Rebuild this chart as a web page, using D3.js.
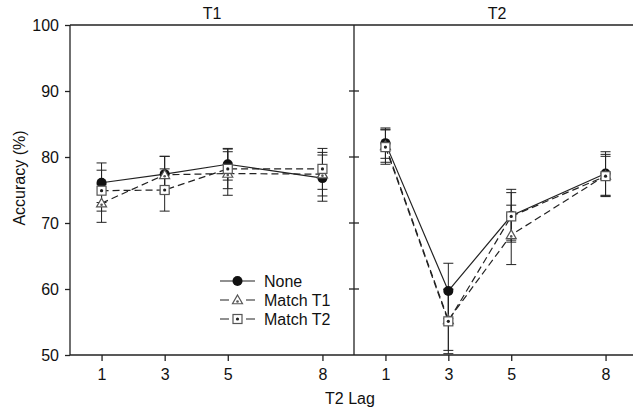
<!DOCTYPE html>
<html>
<head>
<meta charset="utf-8">
<script src="https://cdn.jsdelivr.net/npm/d3@7"></script>
<style>
  body { margin: 0; background: #fff; }
  text { font-family: Arial, "Liberation Sans", sans-serif; fill: #111; }
</style>
</head>
<body>
<div id="wrapper"></div>
<script>
// data
const lags = [1, 3, 5, 8]
const panelNames = ["T1", "T2"]
const seriesNames = ["None", "Match T1", "Match T2"]
const yTicks = [50, 60, 70, 80, 90, 100]

const t1None = [76.1, 77.4, 78.9, 76.8]
const t1MatchT1 = [73.0, 77.3, 77.5, 77.4]
const t1MatchT2 = [74.9, 75.0, 78.2, 78.2]
const t1NoneErr = [3.0, 2.7, 2.4, 3.5]
const t1MatchT1Err = [2.9, 2.8, 3.3, 3.3]
const t1MatchT2Err = [3.1, 3.2, 3.0, 3.1]

const t2None = [82.1, 59.7, 71.1, 77.5]
const t2MatchT1 = [81.7, 55.3, 68.2, 77.2]
const t2MatchT2 = [81.5, 55.1, 71.0, 77.1]
const t2NoneErr = [2.3, 4.2, 4.0, 3.3]
const t2MatchT1Err = [2.5, 4.6, 4.5, 3.2]
const t2MatchT2Err = [2.6, 4.9, 3.6, 3.0]

const panelData = [
  [t1None, t1MatchT1, t1MatchT2],
  [t2None, t2MatchT1, t2MatchT2]
]
const panelErr = [
  [t1NoneErr, t1MatchT1Err, t1MatchT2Err],
  [t2NoneErr, t2MatchT1Err, t2MatchT2Err]
]

// sizes
const width = 633, height = 408
const plotTop = 25, plotBottom = 355
const panelRanges = [[70, 354], [354, 637]]
const fontSize = 16

const svg = d3.select("#wrapper").append("svg")
  .attr("width", width)
  .attr("height", height)

const yScale = d3.scaleLinear().domain([50, 100]).range([plotBottom, plotTop])
const xScales = panelRanges.map(r => d3.scaleLinear().domain([0, 9]).range(r))

const dashes = [null, "7 4", "7 4"]
const axisColor = "#222"

function drawMarker(g, i, x, y) {
  if (i === 0) {
    g.append("circle").attr("cx", x).attr("cy", y).attr("r", 5).attr("fill", "#111")
  } else if (i === 1) {
    const s = 5
    g.append("path")
      .attr("d", `M${x},${y - s} L${x + s},${y + s * 0.75} L${x - s},${y + s * 0.75} Z`)
      .attr("fill", "#fff").attr("stroke", "#555").attr("stroke-width", 1.2)
    g.append("circle").attr("cx", x).attr("cy", y + 1.5).attr("r", 1.3).attr("fill", "#555")
  } else {
    g.append("rect").attr("x", x - 4.5).attr("y", y - 4.5).attr("width", 9).attr("height", 9)
      .attr("fill", "#fff").attr("stroke", "#555").attr("stroke-width", 1.2)
    g.append("circle").attr("cx", x).attr("cy", y).attr("r", 1.6).attr("fill", "#222")
  }
}

panelNames.forEach((name, p) => {
  const xScale = xScales[p]
  const g = svg.append("g")

  // frame
  g.append("line").attr("x1", xScale.range()[0]).attr("x2", xScale.range()[1])
    .attr("y1", plotTop).attr("y2", plotTop).attr("stroke", axisColor).attr("stroke-width", 1.3)
  g.append("line").attr("x1", xScale.range()[0]).attr("x2", xScale.range()[1])
    .attr("y1", plotBottom).attr("y2", plotBottom).attr("stroke", axisColor).attr("stroke-width", 1.3)
  g.append("line").attr("x1", xScale.range()[0]).attr("x2", xScale.range()[0])
    .attr("y1", plotTop).attr("y2", plotBottom).attr("stroke", axisColor).attr("stroke-width", 1.3)

  // x ticks
  const xAxis = g.append("g")
    .attr("transform", `translate(0,${plotBottom})`)
    .call(d3.axisBottom(xScale).tickValues(lags).tickSize(6).tickPadding(8).tickFormat(d3.format("d")))
  xAxis.select(".domain").remove()
  xAxis.selectAll("line").attr("stroke", axisColor).attr("stroke-width", 1.3)
  xAxis.selectAll("text").attr("font-size", fontSize).attr("fill", "#111")
    .style("font-family", "Arial, 'Liberation Sans', sans-serif")

  // y ticks
  if (p === 0) {
    const yAxis = g.append("g")
      .attr("transform", `translate(${xScale.range()[0]},0)`)
      .call(d3.axisLeft(yScale).tickValues(yTicks).tickSize(5).tickPadding(6))
    yAxis.select(".domain").remove()
    yAxis.selectAll("line").attr("stroke", axisColor).attr("stroke-width", 1.3)
    yAxis.selectAll("text").attr("font-size", fontSize).attr("fill", "#111")
      .style("font-family", "Arial, 'Liberation Sans', sans-serif")
  } else {
    // ticks crossing the divider
    g.selectAll(".divtick")
      .data(yTicks.filter(d => d > 50 && d < 100))
      .enter().append("line")
      .attr("x1", xScale.range()[0] - 5).attr("x2", xScale.range()[0] + 5)
      .attr("y1", d => yScale(d)).attr("y2", d => yScale(d))
      .attr("stroke", axisColor).attr("stroke-width", 1.3)
  }

  // title
  g.append("text")
    .attr("x", p === 0 ? 212 : 497)
    .attr("y", 19)
    .attr("text-anchor", "middle")
    .attr("font-size", fontSize)
    .text(name)

  const series = panelData[p]
  const errs = panelErr[p]

  const line = d3.line()
    .x((d, i) => xScale(lags[i]))
    .y(d => yScale(d))

  series.forEach((vals, s) => {
    g.append("path")
      .attr("d", line(vals))
      .attr("fill", "none")
      .attr("stroke", "#222")
      .attr("stroke-width", 1.2)
      .attr("stroke-dasharray", dashes[s])
  })

  // error bars
  series.forEach((vals, s) => {
    vals.forEach((v, i) => {
      const x = xScale(lags[i])
      const e = errs[s][i]
      g.append("line").attr("x1", x).attr("x2", x)
        .attr("y1", yScale(v - e)).attr("y2", yScale(v + e))
        .attr("stroke", "#222").attr("stroke-width", 1)
      ;[v - e, v + e].forEach(c => {
        g.append("line").attr("x1", x - 5).attr("x2", x + 5)
          .attr("y1", yScale(c)).attr("y2", yScale(c))
          .attr("stroke", "#222").attr("stroke-width", 1)
      })
    })
  })

  // markers
  series.forEach((vals, s) => {
    vals.forEach((v, i) => drawMarker(g, s, xScale(lags[i]), yScale(v)))
  })
})

// legend
const legend = svg.append("g")
seriesNames.forEach((n, i) => {
  const y = 281 + i * 19
  legend.append("line").attr("x1", 220).attr("x2", 255).attr("y1", y).attr("y2", y)
    .attr("stroke", "#222").attr("stroke-width", 1.2)
    .attr("stroke-dasharray", i === 0 ? null : "9 17")
  drawMarker(legend, i, 237.5, y)
  legend.append("text").attr("x", 264).attr("y", y + 6).attr("font-size", fontSize).text(n)
})

// axis labels
svg.append("text")
  .attr("x", 350).attr("y", 404)
  .attr("text-anchor", "middle")
  .attr("font-size", fontSize)
  .text("T2 Lag")

svg.append("text")
  .attr("transform", "translate(25,178) rotate(-90)")
  .attr("text-anchor", "middle")
  .attr("font-size", fontSize)
  .text("Accuracy (%)")
</script>
</body>
</html>
